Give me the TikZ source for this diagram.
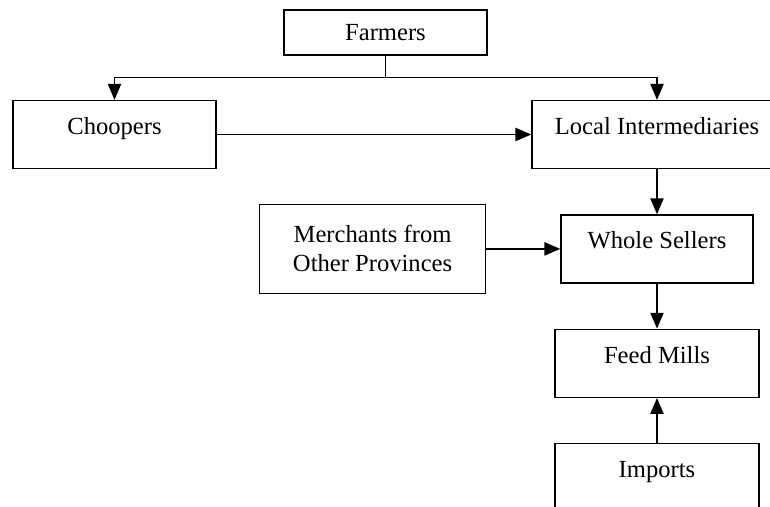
\documentclass[tikz,border=0pt]{standalone}
\usepackage{fontspec}
\setmainfont{Liberation Serif}
\usepackage{tikz}
\usetikzlibrary{arrows.meta,positioning,calc}

\begin{document}
\begin{tikzpicture}[
    node distance=0.9cm,
    font=\fontsize{14}{16.5}\selectfont,
    line width=0.8pt,
    box/.style={rectangle, draw, minimum width=4.08cm, text height=0.68cm, text depth=0.68cm, inner ysep=0pt, align=center},
    headbox/.style={rectangle, draw, minimum width=4.06cm, minimum height=0.9cm, align=center},
    arrow/.style={-{Triangle[length=9pt,width=7.5pt]}}
]
\useasboundingbox (0,0) rectangle (15.4,-10.12);

% Farmers
\node[headbox] (farmers) at (7.71,-0.65) {Farmers};

% Choopers and intermediaries
\node[box, minimum width=4.06cm] (choopers) at (2.29,-2.69) {Choopers};
\node[box, minimum width=5cm] (local) at (13.14,-2.69) {Local Intermediaries};

% Whole sellers and merchants
\node[box, minimum width=3.84cm, below=of local] (whole) {Whole Sellers};
\node[rectangle, draw, minimum width=4.52cm, minimum height=1.78cm, align=center, left=1.48cm of whole] (merchants) {Merchants from\\Other Provinces};

% Feed mills and imports
\node[box, below=of whole] (feed) {Feed Mills};
\node[box, below=of feed] (imports) {Imports};

% Connectors
\draw (farmers.south) -- ++(0,-0.44) coordinate (split);
\draw[arrow] (split) -| (choopers.north);
\draw[arrow] (split) -| (local.north);
\draw[arrow] (choopers) -- (local);
\draw[arrow] (local) -- (whole);
\draw[arrow] (merchants) -- (whole);
\draw[arrow] (whole) -- (feed);
\draw[arrow] (imports) -- (feed);

\end{tikzpicture}
\end{document}
